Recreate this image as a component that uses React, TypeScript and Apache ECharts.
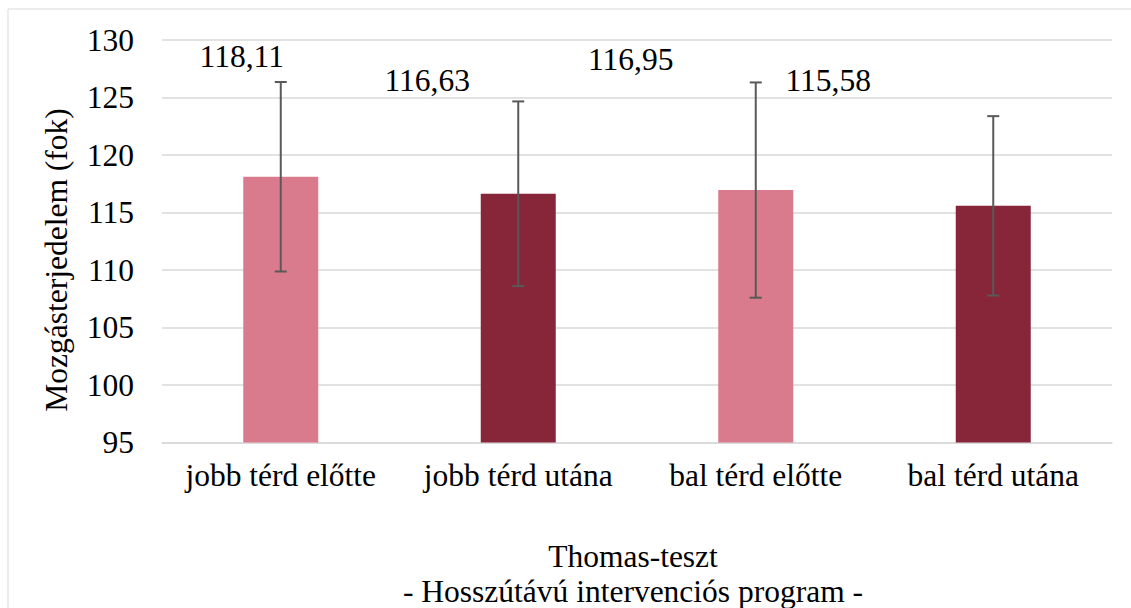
import React, { useEffect, useRef } from "react";
import * as echarts from "echarts";

const categories = ["jobb térd előtte", "jobb térd utána", "bal térd előtte", "bal térd utána"];
const means = [118.11, 116.63, 116.95, 115.58];
const sds = [8.24, 8.03, 9.36, 7.8];
const yTicks = { min: 95, max: 130, interval: 5 };
const axisTitle = "Mozgásterjedelem (fok)";
const chartTitle = "Thomas-teszt";
const chartSubtitle = "- Hosszútávú intervenciós program -";

// styling
const barColors = ["#D97B8C", "#872639", "#D97B8C", "#872639"];
const labelOffsets: [number, number][] = [
  [-39, -120],
  [-91, -113],
  [-125, -131],
  [-165, -125],
];
const FONT = "Liberation Serif, serif";
const FS = 31.5;

export default function App() {
  const ref = useRef<HTMLDivElement>(null);
  useEffect(() => {
    if (!ref.current) return;
    const chart = echarts.init(ref.current, undefined, { renderer: "svg" });
    chart.setOption({
      animation: false,
      backgroundColor: "#ffffff",
      textStyle: { fontFamily: FONT },
      grid: { left: 162, right: 19, top: 40, bottom: 165.5, containLabel: false },
      xAxis: {
        type: "category",
        data: categories,
        axisLine: { show: true, lineStyle: { color: "#d9d9d9", width: 1.5 } },
        axisTick: { show: false },
        axisLabel: { color: "#000", fontSize: FS, fontFamily: FONT, margin: 17, interval: 0 },
      },
      yAxis: {
        type: "value",
        min: yTicks.min,
        max: yTicks.max,
        interval: yTicks.interval,
        axisLine: { show: false },
        axisTick: { show: false },
        splitLine: { lineStyle: { color: "#d9d9d9", width: 1.5 } },
        axisLabel: { color: "#000", fontSize: FS, fontFamily: FONT, margin: 28 },
      },
      series: [
        {
          type: "bar",
          barWidth: 75,
          data: means.map((v, i) => ({
            value: v,
            itemStyle: { color: barColors[i] },
            label: {
              show: true,
              position: "top",
              distance: 0,
              verticalAlign: "middle",
              align: "center",
              offset: labelOffsets[i],
              formatter: () => v.toFixed(2).replace(".", ","),
              color: "#000",
              fontSize: FS,
              fontFamily: FONT,
            },
          })),
        },
        {
          type: "custom",
          z: 10,
          data: means.map((v, i) => [i, v - sds[i], v + sds[i]]),
          renderItem: (params: any, api: any) => {
            const idx = api.value(0);
            const lo = api.coord([idx, api.value(1)]);
            const hi = api.coord([idx, api.value(2)]);
            const half = 6;
            const style = { stroke: "#595959", lineWidth: 2 };
            return {
              type: "group",
              children: [
                { type: "line", shape: { x1: hi[0], y1: hi[1], x2: lo[0], y2: lo[1] }, style },
                { type: "line", shape: { x1: hi[0] - half, y1: hi[1], x2: hi[0] + half, y2: hi[1] }, style },
                { type: "line", shape: { x1: lo[0] - half, y1: lo[1], x2: lo[0] + half, y2: lo[1] }, style },
              ],
            };
          },
        },
      ],
      graphic: [
        {
          type: "rect",
          silent: true,
          shape: { x: 8, y: 9, width: 1300, height: 800 },
          style: { fill: "none", stroke: "#d9d9d9", lineWidth: 1 },
        },
        {
          type: "text",
          x: 56,
          y: 260,
          rotation: Math.PI / 2,
          style: {
            text: axisTitle,
            fontSize: FS,
            fontFamily: FONT,
            fill: "#000",
            align: "center",
            verticalAlign: "middle",
          },
        },
        {
          type: "text",
          x: 633,
          y: 556,
          style: {
            text: chartTitle,
            fontSize: FS,
            fontFamily: FONT,
            fill: "#000",
            align: "center",
            verticalAlign: "middle",
          },
        },
        {
          type: "text",
          x: 633,
          y: 591,
          style: {
            text: chartSubtitle,
            fontSize: FS,
            fontFamily: FONT,
            fill: "#000",
            align: "center",
            verticalAlign: "middle",
          },
        },
      ],
    });
    return () => chart.dispose();
  }, []);
  return (
    <div
      ref={ref}
      style={{ position: "fixed", left: 0, top: 0, width: 1131, height: 608, background: "#fff" }}
    />
  );
}
